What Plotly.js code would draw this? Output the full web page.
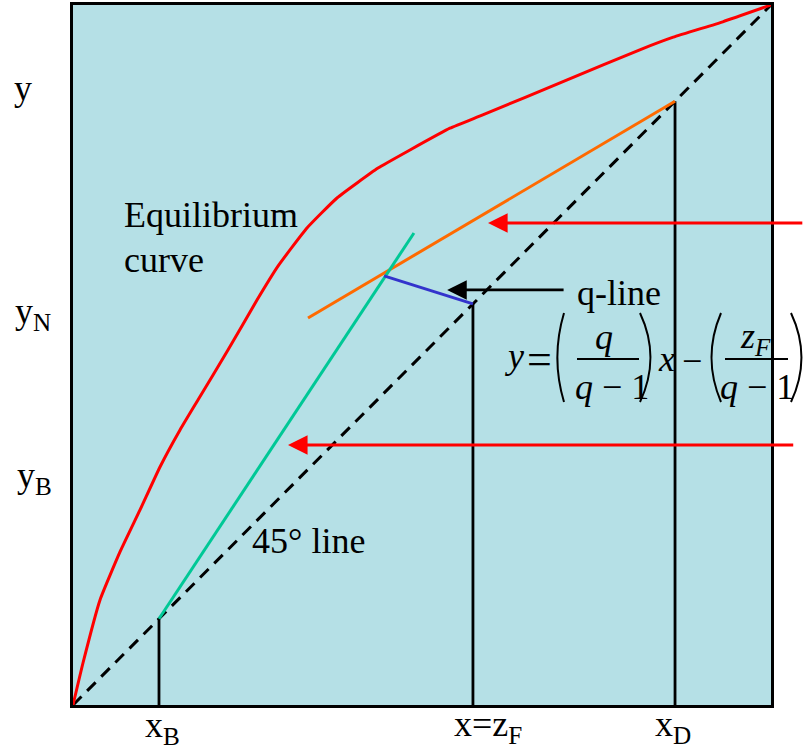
<!DOCTYPE html>
<html>
<head>
<meta charset="utf-8">
<script src="https://cdn.plot.ly/plotly-3.0.1.min.js"></script>
<style>html,body{margin:0;padding:0;background:#fff;}#chart{width:804px;height:752px;}</style>
</head>
<body>
<div id="chart"></div>
<script>
// ---- data (mole fractions, 0..1) ----
const eqX = [0, 0.0143, 0.0387, 0.0673, 0.096, 0.1246, 0.1533, 0.179, 0.222, 0.2636, 0.2937, 0.3352, 0.3782, 0.437, 0.4828, 0.540, 0.587, 0.708, 0.812, 0.860, 0.931, 1];
const eqY = [0, 0.06, 0.15, 0.2186, 0.2786, 0.34, 0.3929, 0.4357, 0.507, 0.5786, 0.627, 0.6814, 0.7243, 0.767, 0.7929, 0.824, 0.843, 0.893, 0.936, 0.954, 0.976, 1];
const diagX = [0, 1];
const diagY = [0, 1];
const xB = 0.1232, zF = 0.573, xD = 0.8625;
const rectX = [0.3367, xD];
const rectY = [0.5529, xD];
const stripX = [xB, 0.4885];
const stripY = [xB, 0.6743];
const qX = [0.4456, zF];
const qY = [0.613, zF];
// arrows: [tailX, headX, y]
const redArrow1 = [1.047, 0.5946, 0.6886];
const redArrow2 = [1.034, 0.308, 0.3714];
const blackArrow = [0.705, 0.536, 0.5929];

// ---- layout helpers (pixel -> paper) ----
const L = 73, R = 33, T = 5, B = 47, W = 804, H = 752;
const PW = W - L - R, PH = H - T - B;
const px = v => (v - L) / PW;
const py = v => (H - B - v) / PH;
const SERIF = 'Liberation Serif';

function lineTrace(x, y, color, width, dash, shape) {
  return {x: x, y: y, mode: 'lines', type: 'scatter', hoverinfo: 'skip',
    line: {color: color, width: width, dash: dash || 'solid', shape: shape || 'linear', smoothing: 0.4}};
}

const traces = [
  lineTrace(diagX, diagY, '#000000', 3, '12px,8px'),
  lineTrace([xB, xB], [0, xB], '#000000', 2.8),
  lineTrace([zF, zF], [0, zF], '#000000', 2.8),
  lineTrace([xD, xD], [0, xD], '#000000', 2.8),
  lineTrace(eqX, eqY, '#ff0000', 3, 'solid', 'spline'),
  lineTrace(rectX, rectY, '#ff6a00', 3),
  lineTrace(stripX, stripY, '#00c896', 3),
  lineTrace(qX, qY, '#3333cc', 3),
];

function txt(text, x, baseline, size, anchor, opts) {
  opts = opts || {};
  return Object.assign({
    text: text, xref: 'paper', yref: 'paper',
    x: px(x), y: py(baseline - 0.34 * size),
    xanchor: anchor || 'left', yanchor: 'middle', showarrow: false,
    font: {family: SERIF, size: size, color: '#000'}
  }, opts);
}
function arrow(a, color) {
  return {x: a[1], y: a[2], ax: a[0], ay: a[2], xref: 'x', yref: 'y', axref: 'x', ayref: 'y',
    text: '', showarrow: true, arrowhead: 2, arrowsize: 1.4, arrowwidth: 2.8, arrowcolor: color};
}

const annotations = [
  txt('y', 12, 100, 36),
  txt('y<sub>N</sub>', 13, 326, 36),
  txt('y<sub>B</sub>', 15, 490, 36),
  txt('Equilibrium', 122, 227, 36),
  txt('curve', 122, 272, 36),
  txt('q-line', 575, 305, 36),
  txt('45° line', 250, 553, 36),
  txt('x<sub>B</sub>', 143, 740, 36),
  txt('x=z<sub>F</sub>', 452, 739, 36),
  txt('x<sub>D</sub>', 653, 739, 36),
  // equation
  txt('<i>y</i>', 514, 368, 36, 'center'),
  txt('=', 539, 374, 44, 'center'),
  txt('<i>q</i>', 604, 349, 36, 'center'),
  txt('<i>q</i> − 1', 612, 399, 36, 'center'),
  txt('<i>x</i>', 666, 371, 36, 'center'),
  txt('−', 692, 373, 36, 'center'),
  txt('<i>z<sub>F</sub></i>', 755, 351, 36, 'center'),
  txt('<i>q</i> − 1', 757, 399, 36, 'center'),
  arrow(redArrow1, '#ff0000'),
  arrow(redArrow2, '#ff0000'),
  arrow(blackArrow, '#000000'),
];

function pline(x0, y0, x1, y1, w) {
  return {type: 'line', xref: 'paper', yref: 'paper', x0: px(x0), y0: py(y0), x1: px(x1), y1: py(y1),
    line: {color: '#000', width: w || 2}};
}
function paren(xEnd, xMid, yTop, yBot, w) {
  const yMid = (yTop + yBot) / 2;
  return {type: 'path', xref: 'paper', yref: 'paper',
    path: 'M' + px(xEnd) + ',' + py(yTop) + ' Q' + px(xMid - (xEnd - xMid) * 0.9) + ',' + py(yMid) + ' ' + px(xEnd) + ',' + py(yBot),
    line: {color: '#000', width: w || 2}};
}

const shapes = [
  pline(577, 359, 639, 359),
  pline(725, 359, 788, 359),
  paren(564, 557, 313, 402, 2),
  paren(640, 651, 313, 402, 2),
  paren(721, 711, 313, 402, 2),
  paren(791, 802, 313, 402, 2),
];

const axisCommon = {range: [0, 1], showgrid: false, zeroline: false, showticklabels: false,
  ticks: '', showline: true, mirror: true, linecolor: '#000', linewidth: 3, fixedrange: true};

const layout = {
  width: W, height: H,
  margin: {l: L, r: R, t: T, b: B, pad: 0},
  paper_bgcolor: '#ffffff', plot_bgcolor: '#b5e0e6',
  showlegend: false, hovermode: false,
  font: {family: SERIF},
  xaxis: Object.assign({}, axisCommon),
  yaxis: Object.assign({}, axisCommon),
  annotations: annotations,
  shapes: shapes
};

Plotly.newPlot('chart', traces, layout, {staticPlot: true, displayModeBar: false});
</script>
</body>
</html>
